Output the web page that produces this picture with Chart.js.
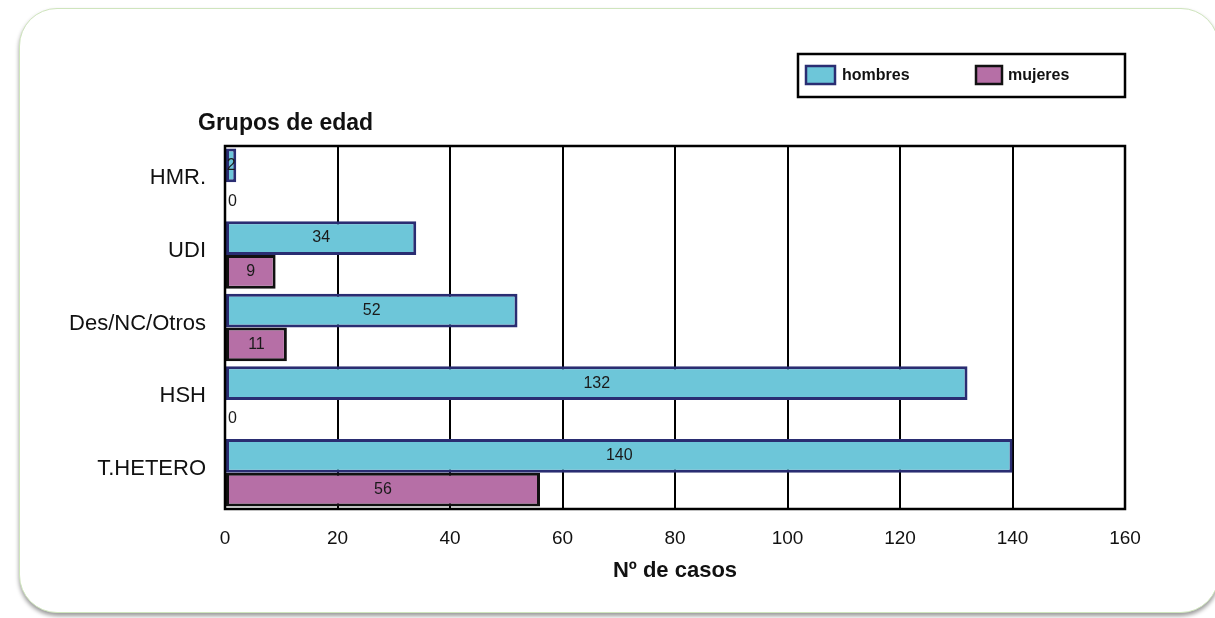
<!DOCTYPE html>
<html>
<head>
<meta charset="utf-8">
<script src="https://cdn.jsdelivr.net/npm/chart.js@4"></script>
<style>
  html, body { margin: 0; padding: 0; background: #fff; }
  #wrap { position: relative; width: 1215px; height: 618px; overflow: hidden; }
  #card { position: absolute; left: 19px; top: 8px; width: 1200px; height: 605px;
          border: 1.5px solid #cfe5bd; border-radius: 38px; box-sizing: border-box;
          box-shadow: 0 3px 4px rgba(0,0,0,0.4); background: #fff; }
  #cv { position: absolute; left: 0; top: 0; }
</style>
</head>
<body>
<div id="wrap">
  <div id="card"></div>
  <canvas id="cv" width="1215" height="618"></canvas>
</div>
<script>
const categories = ["HMR.", "UDI", "Des/NC/Otros", "HSH", "T.HETERO"];
const hombres = [2, 34, 52, 132, 140];
const mujeres = [0, 9, 11, 0, 56];
const xTicks = [0, 20, 40, 60, 80, 100, 120, 140, 160];
const seriesNames = ["hombres", "mujeres"];
const yTitle = "Grupos de edad";
const xTitle = "Nº de casos";

const FONT = '"Liberation Sans", Arial, Helvetica, sans-serif';

const frameAndText = {
  id: 'frameAndText',
  afterDatasetsDraw(chart) {
    const ctx = chart.ctx;
    const a = chart.chartArea;
    ctx.save();
    ctx.font = '16px ' + FONT;
    ctx.fillStyle = '#1a1a1a';
    ctx.textBaseline = 'middle';
    chart.data.datasets.forEach((ds, di) => {
      const meta = chart.getDatasetMeta(di);
      meta.data.forEach((el, i) => {
        const v = ds.data[i];
        const base = el.base;
        if (v === 0) {
          ctx.textAlign = 'left';
          ctx.fillText(String(v), base + 3, el.y + 2);
        } else {
          ctx.textAlign = 'center';
          ctx.fillText(String(v), (base + el.x) / 2, el.y);
        }
      });
    });
    ctx.strokeStyle = '#000';
    ctx.lineWidth = 2.5;
    ctx.strokeRect(a.left, a.top, a.right - a.left, a.bottom - a.top);
    ctx.restore();
  },
  afterDraw(chart) {
    const ctx = chart.ctx;
    const a = chart.chartArea;
    ctx.save();
    ctx.fillStyle = '#111';
    ctx.font = 'bold 23px ' + FONT;
    ctx.textAlign = 'left';
    ctx.textBaseline = 'middle';
    ctx.fillText(yTitle, 198, 124);
    ctx.font = 'bold 22px ' + FONT;
    ctx.textAlign = 'center';
    ctx.fillText(xTitle, (a.left + a.right) / 2, 571);
    ctx.strokeStyle = '#000';
    ctx.lineWidth = 2.5;
    ctx.strokeRect(798, 54, 327, 43);
    const sw = [[806, 835], [976, 1002]];
    const tx = [842, 1008];
    ctx.font = 'bold 16px ' + FONT;
    ctx.textAlign = 'left';
    chart.data.datasets.forEach((ds, di) => {
      ctx.fillStyle = ds.backgroundColor;
      ctx.fillRect(sw[di][0], 66, sw[di][1] - sw[di][0], 18);
      ctx.strokeStyle = ds.borderColor;
      ctx.lineWidth = 2.5;
      ctx.strokeRect(sw[di][0], 66, sw[di][1] - sw[di][0], 18);
      ctx.fillStyle = '#111';
      ctx.fillText(seriesNames[di], tx[di], 76);
    });
    ctx.restore();
  }
};

new Chart(document.getElementById('cv'), {
  type: 'bar',
  data: {
    labels: categories,
    datasets: [
      { label: seriesNames[0], data: hombres, backgroundColor: '#6dc6d9', borderColor: '#2a2d72',
        borderWidth: 3, borderSkipped: false },
      { label: seriesNames[1], data: mujeres, backgroundColor: '#b66fa6', borderColor: '#111',
        borderWidth: 3, borderSkipped: false }
    ]
  },
  options: {
    responsive: false,
    animation: false,
    indexAxis: 'y',
    categoryPercentage: 0.93,
    barPercentage: 1.0,
    layout: { padding: { left: 0, right: 90, top: 146, bottom: 0 } },
    plugins: { legend: { display: false }, tooltip: { enabled: false } },
    scales: {
      x: {
        min: 0, max: 160,
        afterFit(s) { s.height = 109; },
        afterBuildTicks(s) { s.ticks = xTicks.map(v => ({ value: v })); },
        grid: { color: '#000', lineWidth: 2, drawTicks: false },
        border: { display: true, color: '#000', width: 2 },
        ticks: { color: '#111', font: { family: FONT, size: 19 }, padding: 18, maxRotation: 0 }
      },
      y: {
        afterFit(s) { s.width = 225; },
        grid: { display: false, drawTicks: false },
        border: { display: true, color: '#000', width: 2 },
        ticks: { color: '#111', font: { family: FONT, size: 22 }, padding: 19, labelOffset: -4 }
      }
    }
  },
  plugins: [frameAndText]
});
</script>
</body>
</html>
